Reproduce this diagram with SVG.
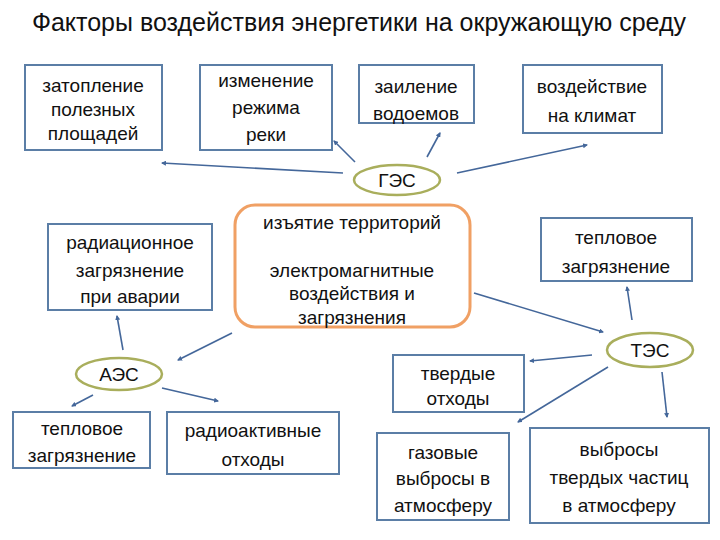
<svg xmlns="http://www.w3.org/2000/svg" width="720" height="540" viewBox="0 0 720 540">
<defs>
<style>
.box{fill:#ffffff;stroke:#5b7ea6;stroke-width:2}
.ell{fill:#ffffff;stroke:#a9ae5c;stroke-width:2.5}
.org{fill:#ffffff;stroke:#f0a064;stroke-width:3}
.t{font-family:"Liberation Sans",Arial,sans-serif;font-size:19px;fill:#111;text-anchor:middle}
.title{font-family:"Liberation Sans",Arial,sans-serif;font-size:25px;fill:#111;text-anchor:middle}
.c line{stroke:#44679a;stroke-width:1.6;marker-end:url(#ah)}
</style>
<marker id="ah" viewBox="0 0 10 10" refX="8" refY="5" markerWidth="5" markerHeight="5" orient="auto" markerUnits="userSpaceOnUse">
<path d="M0,0 L10,5 L0,10 z" fill="#44679a"/>
</marker>
</defs>
<rect width="720" height="540" fill="#ffffff"/>
<text class="title" x="359" y="31">Факторы воздействия энергетики на окружающую среду</text>

<g class="c" id="connectors">
<line x1="343" y1="173" x2="162" y2="163"/>
<line x1="355" y1="162" x2="334" y2="141"/>
<line x1="427" y1="157" x2="440" y2="133"/>
<line x1="457" y1="173" x2="587" y2="145"/>
<line x1="474" y1="293" x2="603" y2="332"/>
<line x1="632" y1="320" x2="627" y2="287"/>
<line x1="592" y1="355" x2="530" y2="361"/>
<line x1="608" y1="367" x2="518" y2="422"/>
<line x1="662" y1="372" x2="667" y2="417"/>
<line x1="123" y1="350" x2="117" y2="316"/>
<line x1="232" y1="333" x2="178" y2="360"/>
<line x1="93" y1="395" x2="72" y2="406"/>
<line x1="162" y1="388" x2="218" y2="401"/>
</g>

<g id="n-zatoplenie">
<rect class="box" x="25" y="65" width="137" height="85"/>
<text class="t" x="93" y="92">затопление</text>
<text class="t" x="93" y="116">полезных</text>
<text class="t" x="93" y="140">площадей</text>
</g>
<g id="n-izmenenie">
<rect class="box" x="200" y="65" width="132" height="85"/>
<text class="t" x="266" y="87">изменение</text>
<text class="t" x="266" y="114">режима</text>
<text class="t" x="266" y="141">реки</text>
</g>
<g id="n-zailenie">
<rect class="box" x="359" y="65" width="115" height="58"/>
<text class="t" x="416" y="93">заиление</text>
<text class="t" x="416" y="120">водоемов</text>
</g>
<g id="n-klimat">
<rect class="box" x="523" y="65" width="139" height="68"/>
<text class="t" x="592" y="93">воздействие</text>
<text class="t" x="592" y="122">на климат</text>
</g>
<g id="n-ges">
<ellipse class="ell" cx="397" cy="180" rx="43" ry="15"/>
<text class="t" x="397" y="187">ГЭС</text>
</g>
<g id="n-center">
<rect class="org" x="235" y="205" width="235" height="122" rx="20" ry="20"/>
<text class="t" x="352" y="229">изъятие территорий</text>
<text class="t" x="352" y="277">электромагнитные</text>
<text class="t" x="352" y="300">воздействия и</text>
<text class="t" x="352" y="324">загрязнения</text>
</g>
<g id="n-radiac">
<rect class="box" x="48" y="224" width="164" height="86"/>
<text class="t" x="130" y="249">радиационное</text>
<text class="t" x="130" y="277">загрязнение</text>
<text class="t" x="130" y="303">при аварии</text>
</g>
<g id="n-teplo-r">
<rect class="box" x="541" y="218" width="151" height="63"/>
<text class="t" x="616" y="244">тепловое</text>
<text class="t" x="616" y="273">загрязнение</text>
</g>
<g id="n-tes">
<ellipse class="ell" cx="650" cy="350" rx="43" ry="17"/>
<text class="t" x="650" y="357">ТЭС</text>
</g>
<g id="n-tverd">
<rect class="box" x="393" y="355" width="131" height="57"/>
<text class="t" x="458" y="380">твердые</text>
<text class="t" x="458" y="405">отходы</text>
</g>
<g id="n-gaz">
<rect class="box" x="377" y="433" width="132" height="87"/>
<text class="t" x="443" y="459">газовые</text>
<text class="t" x="443" y="485">выбросы в</text>
<text class="t" x="443" y="512">атмосферу</text>
</g>
<g id="n-chastic">
<rect class="box" x="530" y="428" width="179" height="95"/>
<text class="t" x="619" y="456">выбросы</text>
<text class="t" x="619" y="484">твердых частиц</text>
<text class="t" x="619" y="512">в атмосферу</text>
</g>
<g id="n-aes">
<ellipse class="ell" cx="119" cy="374" rx="43" ry="16"/>
<text class="t" x="119" y="381">АЭС</text>
</g>
<g id="n-teplo-l">
<rect class="box" x="13" y="412" width="137" height="56"/>
<text class="t" x="82" y="435">тепловое</text>
<text class="t" x="82" y="462">загрязнение</text>
</g>
<g id="n-radioakt">
<rect class="box" x="167" y="412" width="172" height="62"/>
<text class="t" x="253" y="437">радиоактивные</text>
<text class="t" x="253" y="466">отходы</text>
</g>
</svg>
